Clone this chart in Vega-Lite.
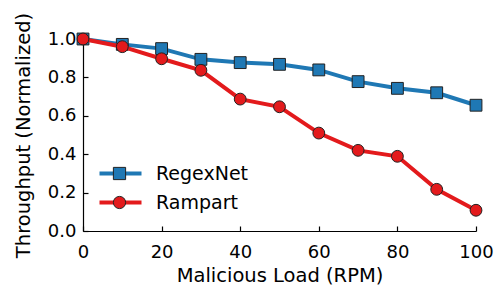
{
  "$schema": "https://vega.github.io/schema/vega-lite/v6.json",
  "width": 393,
  "height": 192,
  "autosize": {"type": "none"},
  "padding": {"left": 83, "top": 39, "right": 19, "bottom": 55},
  "background": "white",
  "config": {
    "view": {"stroke": null},
    "font": "DejaVu Sans",
    "axis": {
      "grid": false,
      "domainColor": "black",
      "domainWidth": 1.2,
      "tickColor": "black",
      "tickWidth": 1.2,
      "tickSize": -5,
      "labelFlush": false,
      "labelOverlap": false,
      "labelFont": "DejaVu Sans",
      "labelFontSize": 18,
      "labelColor": "black",
      "titleFont": "DejaVu Sans",
      "titleFontSize": 19.5,
      "titleFontWeight": "normal",
      "titleColor": "black"
    },
    "legend": {
      "labelFont": "DejaVu Sans",
      "labelFontSize": 19,
      "labelColor": "black",
      "padding": 0
    }
  },
  "data": {
    "values": [
      {"load": 0, "throughput": 1.0, "system": "RegexNet"},
      {"load": 10, "throughput": 0.972, "system": "RegexNet"},
      {"load": 20, "throughput": 0.95, "system": "RegexNet"},
      {"load": 30, "throughput": 0.894, "system": "RegexNet"},
      {"load": 40, "throughput": 0.877, "system": "RegexNet"},
      {"load": 50, "throughput": 0.868, "system": "RegexNet"},
      {"load": 60, "throughput": 0.839, "system": "RegexNet"},
      {"load": 70, "throughput": 0.778, "system": "RegexNet"},
      {"load": 80, "throughput": 0.743, "system": "RegexNet"},
      {"load": 90, "throughput": 0.72, "system": "RegexNet"},
      {"load": 100, "throughput": 0.655, "system": "RegexNet"},
      {"load": 0, "throughput": 1.0, "system": "Rampart"},
      {"load": 10, "throughput": 0.96, "system": "Rampart"},
      {"load": 20, "throughput": 0.897, "system": "Rampart"},
      {"load": 30, "throughput": 0.837, "system": "Rampart"},
      {"load": 40, "throughput": 0.687, "system": "Rampart"},
      {"load": 50, "throughput": 0.647, "system": "Rampart"},
      {"load": 60, "throughput": 0.51, "system": "Rampart"},
      {"load": 70, "throughput": 0.42, "system": "Rampart"},
      {"load": 80, "throughput": 0.389, "system": "Rampart"},
      {"load": 90, "throughput": 0.217, "system": "Rampart"},
      {"load": 100, "throughput": 0.108, "system": "Rampart"}
    ]
  },
  "encoding": {
    "x": {
      "field": "load", "type": "quantitative",
      "scale": {"domain": [0, 100], "nice": false},
      "axis": {"values": [0, 20, 40, 60, 80, 100], "title": "Malicious Load (RPM)", "labelPadding": 17, "titlePadding": 5}
    },
    "y": {
      "field": "throughput", "type": "quantitative",
      "scale": {"domain": [0, 1], "nice": false},
      "axis": {"values": [0, 0.2, 0.4, 0.6, 0.8, 1.0], "format": ".1f", "title": "Throughput (Normalized)", "labelPadding": 12, "titlePadding": 14}
    }
  },
  "layer": [
    {
      "transform": [{"filter": "datum.system === 'RegexNet'"}],
      "mark": {"type": "line", "strokeWidth": 4},
      "encoding": {
        "stroke": {
          "field": "system", "type": "nominal",
          "scale": {"domain": ["RegexNet", "Rampart"], "range": ["#1f78b4", "#e31a1c"]},
          "legend": {
            "title": null, "orient": "none", "legendX": 28, "legendY": 125,
            "symbolType": "M-3.5,0H3.5", "symbolSize": 144, "symbolStrokeWidth": 4,
            "labelOffset": 26, "rowPadding": 9
          }
        }
      }
    },
    {
      "transform": [{"filter": "datum.system === 'RegexNet'"}],
      "mark": {"type": "point", "filled": true, "size": 140, "stroke": "#222", "strokeWidth": 1, "opacity": 1},
      "encoding": {
        "fill": {
          "field": "system", "type": "nominal",
          "sort": "descending",
          "scale": {"range": ["#1f78b4", "#e31a1c"]},
          "legend": {
            "title": null, "orient": "none", "legendX": 27, "legendY": 125,
            "symbolSize": 150, "symbolStrokeColor": "#222", "symbolStrokeWidth": 1,
            "labelOffset": 26, "rowPadding": 9, "labelOpacity": 0
          }
        },
        "shape": {
          "field": "system", "type": "nominal",
          "sort": "descending",
          "scale": {"range": ["square", "circle"]}
        }
      }
    },
    {
      "transform": [{"filter": "datum.system === 'Rampart'"}],
      "mark": {"type": "line", "strokeWidth": 4},
      "encoding": {
        "stroke": {"field": "system", "type": "nominal"}
      }
    },
    {
      "transform": [{"filter": "datum.system === 'Rampart'"}],
      "mark": {"type": "point", "filled": true, "size": 140, "stroke": "#222", "strokeWidth": 1, "opacity": 1},
      "encoding": {
        "fill": {"field": "system", "type": "nominal", "sort": "descending"},
        "shape": {"field": "system", "type": "nominal", "sort": "descending"}
      }
    }
  ]
}
